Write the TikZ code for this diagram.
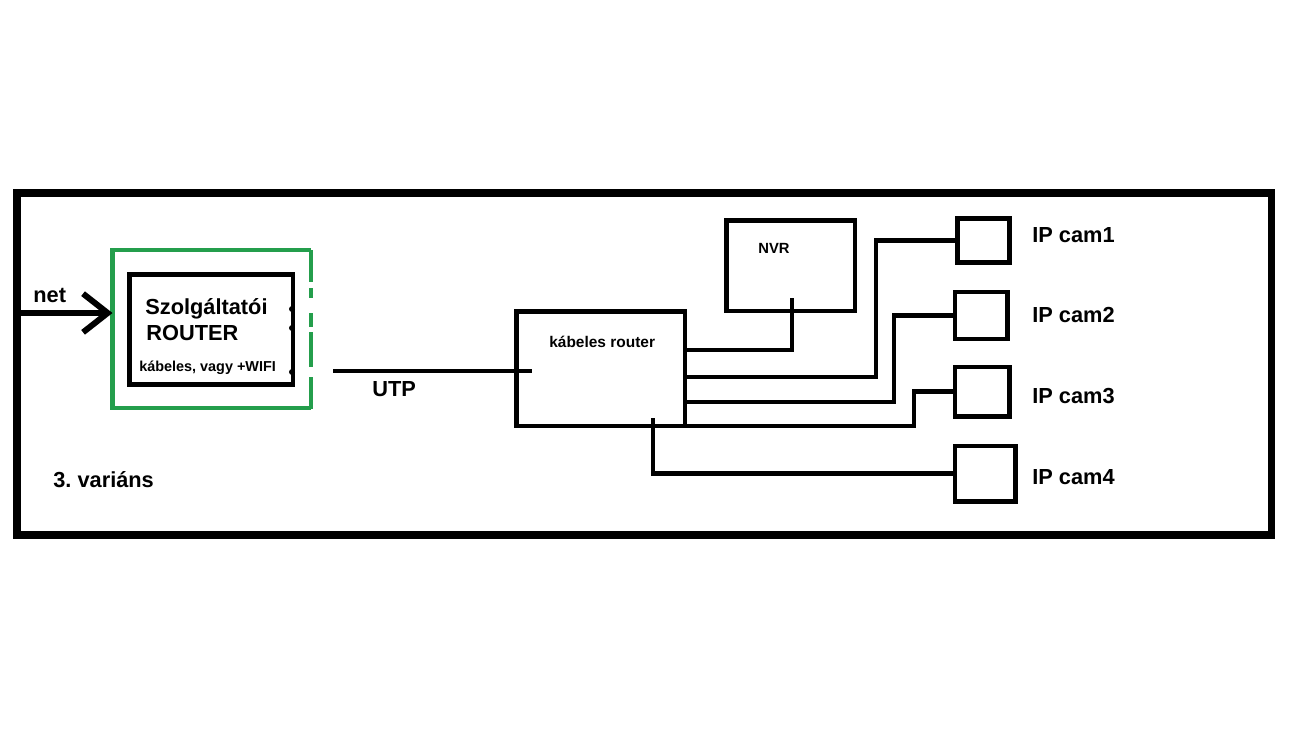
\documentclass[tikz,border=0pt]{standalone}
\usepackage{fontspec}
\setmainfont{Liberation Sans}
\usetikzlibrary{arrows.meta}
\definecolor{paintgreen}{RGB}{36,158,76}

\begin{document}
\frenchspacing
\begin{tikzpicture}[
    x=0.02cm, y=-0.02cm,
    devbox/.style={draw=black, line width=2.8pt, inner sep=0pt, outer sep=0pt},
    framebox/.style={draw=black, line width=4.5pt, inner sep=0pt, outer sep=0pt},
    greenline/.style={paintgreen, line width=2.8pt},
    wire/.style={black, line width=2.8pt},
    biglabel/.style={font=\bfseries\fontsize{12.4}{14}\selectfont, anchor=base west, inner sep=0pt},
    smalllabel/.style={font=\bfseries\fontsize{8.4}{10}\selectfont, anchor=base west, inner sep=0pt},
]

\def\u{0.02cm}   % one pixel of the reference

\useasboundingbox (0,0) rectangle (1299,748);

% ── Outer frame ─────────────────────────────────────────────
\node[framebox, minimum width={1254.5*\u}, minimum height={342*\u}]
    (frame) at (644.25,364) {};

% ── Provider router inside green box ───────────────────────
\node[inner sep=0pt, outer sep=0pt, minimum width={198.5*\u}, minimum height={158*\u}]
    (green) at (211.75,329) {};
\draw[greenline] (green.north east) -- (green.north west)
    -- (green.south west) -- (green.south east);
% right side of the green box is broken
\foreach \ya/\yb in {250/282, 288/298, 313/327, 332/367, 377/409} {
    \draw[greenline] (311,\ya) -- (311,\yb);
}

\node[devbox, minimum width={163.5*\u}, minimum height={110*\u}]
    (szrouter) at (211.25,329.5) {};
\node[biglabel] (sztext) at (145,314) {Szolgáltatói};
\node[biglabel] (routertext) at (146,340) {ROUTER};
\node[font=\bfseries\fontsize{8.2}{10}\selectfont, anchor=base west, inner sep=0pt]
    (wifitext) at (139,371) {kábeles, vagy +WIFI};

% ports on the right edge
\foreach \py in {309, 328, 372} {
    \fill[black] (292,\py) circle[radius=3];
}

% ── Incoming net ────────────────────────────────────────────
\coordinate (netin) at (20,313);
\draw[black, line width=3.4pt, -{Straight Barb[length=14pt, width=22pt]}]
    (netin) -- (green.west |- netin);
\node[biglabel] (nettext) at (33,302) {net};

% ── UTP link ────────────────────────────────────────────────
\node[devbox, minimum width={168.5*\u}, minimum height={114.5*\u}]
    (krouter) at (600.75,368.75) {};
\node[font=\bfseries\fontsize{8.8}{10}\selectfont, anchor=base west, inner sep=0pt]
    (krtext) at (549,347) {kábeles router};

\coordinate (utpstart) at (333,371);
\coordinate (utpend) at (532,371);
\draw[black, line width=2.3pt] (utpstart) -- (utpend);
\node[biglabel] (utptext) at (372,396) {UTP};

% ── NVR ─────────────────────────────────────────────────────
\node[devbox, minimum width={128.5*\u}, minimum height={90.5*\u}]
    (nvr) at (790.75,265.75) {};
\node[smalllabel] (nvrtext) at (758,253) {NVR};
\coordinate (nvrport) at (792,298);

% ── Cameras ─────────────────────────────────────────────────
\foreach \i/\cx/\cy/\w/\h/\ty in {1/983.5/240.5/52/44/242,
                                  2/981.25/315.5/52.5/47/322,
                                  3/982.25/391.75/54.5/49.5/403,
                                  4/985.25/473.75/60.5/55.5/484} {
    \node[devbox, minimum width={\w*\u}, minimum height={\h*\u}]
        (cam\i) at (\cx,\cy) {};
    \node[biglabel] (camtext\i) at (1032,\ty) {IP cam\i};
}

% ── Wiring from the cable router ───────────────────────────
\draw[wire] (krouter.east |- 0,350) -| (nvrport);
\draw[wire] (krouter.east |- 0,377) -| (876,0 |- cam1.west) -- (cam1.west);
\draw[wire] (krouter.east |- 0,402) -| (894,0 |- cam2.west) -- (cam2.west);
\draw[wire] (krouter.south east) -| (914,0 |- cam3.west) -- (cam3.west);
\coordinate (tap) at (653,418);
\draw[wire] (tap) |- (cam4.west);

% ── Variant label ───────────────────────────────────────────
\node[biglabel] (varianttext) at (53,487) {3. variáns};

\end{tikzpicture}
\end{document}
